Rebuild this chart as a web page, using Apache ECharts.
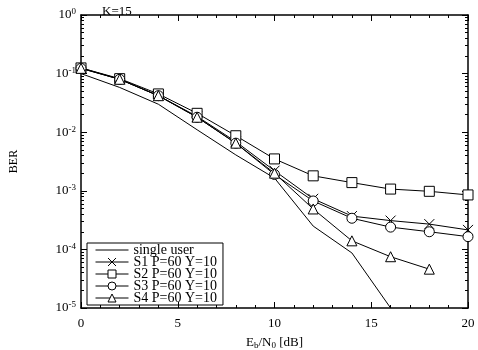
<!DOCTYPE html>
<html>
<head>
<meta charset="utf-8">
<script src="https://cdn.jsdelivr.net/npm/echarts@6/dist/echarts.min.js"></script>
<style>
  html, body { margin: 0; padding: 0; background: #fff; }
  #chart { width: 478px; height: 350px; }
</style>
</head>
<body>
<div id="chart"></div>
<script>
// Eb/N0 in dB
const snr = [0, 2, 4, 6, 8, 10, 12, 14, 16, 18, 20];

const singleUser = [0.1, 0.058, 0.03, 0.011, 0.0041, 0.00165, 0.00025, 0.000087, 0.00001];
const s1 = [0.125, 0.08, 0.042, 0.0186, 0.0069, 0.0022, 0.00073, 0.00037, 0.00031, 0.00027, 0.000215];
const s2 = [0.125, 0.082, 0.045, 0.021, 0.0087, 0.0035, 0.0018, 0.00138, 0.00107, 0.00098, 0.00085];
const s3 = [0.123, 0.08, 0.042, 0.018, 0.0065, 0.0019, 0.00067, 0.00034, 0.00024, 0.0002, 0.000165];
const s4 = [0.123, 0.08, 0.042, 0.018, 0.0065, 0.002, 0.00049, 0.00014, 0.000075, 0.000046];

const names = ['single user', 'S1 P=60 Y=10', 'S2 P=60 Y=10', 'S3 P=60 Y=10', 'S4 P=60 Y=10'];

// log minor ticks 2..9 for each decade
const minorVals = [];
for (let e = -5; e < 0; e++) {
    for (let m = 2; m <= 9; m++) minorVals.push(m * Math.pow(10, e));
}

const font = 'Liberation Serif';
const pairs = (ys) => ys.map((y, i) => [snr[i], y]);

const chart = echarts.init(document.getElementById('chart'));

function logAxis(pos, minor) {
    return {
        type: 'log',
        position: pos,
        min: 1e-5,
        max: 1,
        logBase: 10,
        axisLine: { show: !minor, onZero: false, lineStyle: { color: '#000', width: 1.5 } },
        axisTick: minor
            ? { show: true, inside: true, length: 3, customValues: minorVals, lineStyle: { color: '#000' } }
            : { show: true, inside: true, length: 6, lineStyle: { color: '#000' } },
        splitLine: { show: false },
        axisLabel: {
            show: !minor && pos === 'left',
            margin: 5,
            formatter: (v) => '{b|10}{s|' + Math.round(Math.log10(v)) + '}',
            rich: {
                b: { fontFamily: font, fontSize: 13, color: '#000' },
                s: { fontFamily: font, fontSize: 9, color: '#000', verticalAlign: 'top', padding: [0, 0, 6, 0] }
            }
        }
    };
}

function linAxis(pos) {
    return {
        type: 'value',
        position: pos,
        min: 0,
        max: 20,
        interval: 5,
        axisLine: { show: true, onZero: false, lineStyle: { color: '#000', width: 1.5 } },
        axisTick: { show: true, inside: true, length: 6, lineStyle: { color: '#000' } },
        minorTick: { show: true, splitNumber: 5, length: 3, lineStyle: { color: '#000' } },
        splitLine: { show: false },
        axisLabel: {
            show: pos === 'bottom',
            margin: 9,
            fontFamily: font,
            fontSize: 13,
            color: '#000'
        }
    };
}

const bottomX = linAxis('bottom');
bottomX.name = '{n|E}{sub|b}{n|/N}{sub|0}{n| [dB]}';
bottomX.nameLocation = 'middle';
bottomX.nameGap = 28;
bottomX.nameTextStyle = {
    rich: {
        n: { fontFamily: font, fontSize: 13, color: '#000' },
        sub: { fontFamily: font, fontSize: 9, color: '#000', verticalAlign: 'bottom', padding: [5, 0, 0, 0] }
    }
};

const mainY = logAxis('left', false);
mainY.name = 'BER';
mainY.nameLocation = 'middle';
mainY.nameGap = 61;
mainY.nameRotate = 90;
mainY.nameTextStyle = { fontFamily: font, fontSize: 12, color: '#000' };

const symbols = [
    'none',
    'path://M0 0L10 10M10 0L0 10',
    'rect',
    'circle',
    'triangle'
];
const dataSets = [singleUser, s1, s2, s3, s4];

chart.setOption({
    animation: false,
    title: {
        text: 'K=15',
        left: 97,
        top: 0,
        textStyle: { fontFamily: font, fontSize: 13, fontWeight: 'normal', color: '#000' }
    },
    grid: { left: 81, right: 10, top: 15, bottom: 42, outerBoundsMode: 'none', containLabel: false },
    legend: {
        orient: 'vertical',
        left: 87,
        top: 243,
        data: names.map((n, i) => i === 0
            ? { name: n, itemStyle: { opacity: 0 } }
            : { name: n }),
        borderColor: '#000',
        borderWidth: 1,
        padding: [0, 6, 0, 8],
        itemWidth: 33,
        itemHeight: 10,
        itemGap: -2,
        lineStyle: { width: 1 },
        itemStyle: { borderWidth: 1 },
        textStyle: { fontFamily: font, fontSize: 14, color: '#000' }
    },
    xAxis: [bottomX, linAxis('top')],
    yAxis: [mainY, logAxis('left', true), logAxis('right', false), logAxis('right', true)],
    series: dataSets.map((d, i) => ({
        name: names[i],
        type: 'line',
        data: pairs(d),
        symbol: symbols[i],
        symbolSize: 10,
        showSymbol: i > 0,
        lineStyle: { color: '#000', width: 1 },
        itemStyle: { color: i === 1 ? '#000' : '#fff', borderColor: '#000', borderWidth: 1 },
        emphasis: { disabled: true }
    }))
});
</script>
</body>
</html>
